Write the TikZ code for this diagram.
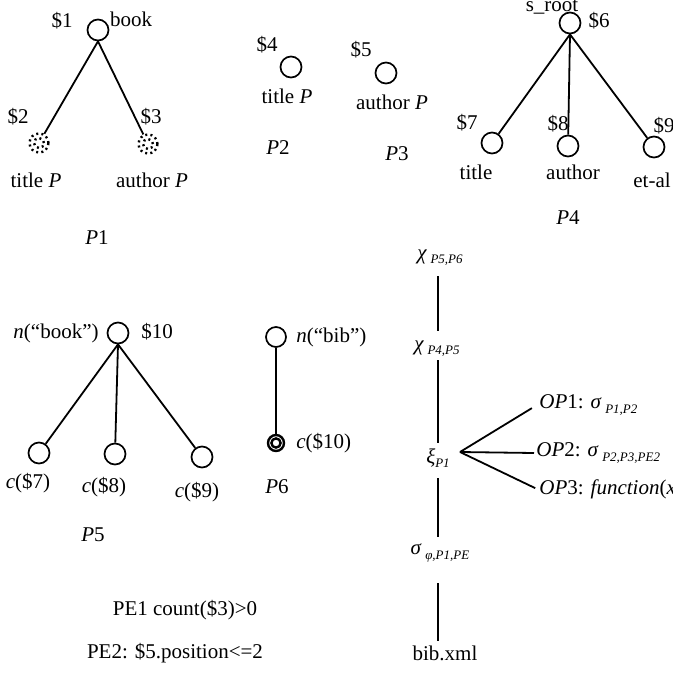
\documentclass[tikz,border=0pt]{standalone}
\usepackage{fontspec}
\setmainfont{Liberation Serif}
\usetikzlibrary{positioning,calc}
\newcommand{\sbs}[1]{\raisebox{-0.45ex}{\fontsize{6.5}{7}\selectfont\itshape #1}}

\begin{document}
\begin{tikzpicture}[x=0.5pt,y=-0.5pt,
    every node/.style={font=\fontsize{10.5}{12}\selectfont, inner sep=1pt},
    vnode/.style={circle, draw, line width=0.85pt, minimum size=10.5pt, inner sep=0pt},
    dnode/.style={circle, draw, line width=1.2pt, dash pattern=on 1pt off 1.6pt, minimum size=9.5pt, inner sep=0pt},
    bnode/.style={circle, draw, line width=1.2pt, minimum size=8pt, inner sep=0pt},
    edge/.style={line width=0.9pt}]
    \useasboundingbox (0,0) rectangle (673,675);

    % P1
    \node[vnode] (r1) at (98,30) {};
    \node (l1) at (62,21) {\$1};
    \node (t1) at (131,19) {book};
    \node[dnode] (c2) at (39,143) {};
    \node[dnode] (c3) at (148,144) {};
    \draw[line width=1.2pt, dash pattern=on 1pt off 1.6pt] (c2) circle (2.5pt) (c3) circle (2.5pt);
    \node (l2) at (18,117) {\$2};
    \node (l3) at (151,117) {\$3};
    \node (t2) at (36,180) {title \textit{P}};
    \node (t3) at (152,180) {author \textit{P}};
    \node (p1) at (97,238) {\textit{P}1};
    \draw[edge] (r1.south) -- (c2);
    \draw[edge] (r1.south) -- (c3);

    % P2, P3
    \node[vnode] (r2) at (291,67) {};
    \node (l4) at (267,45) {\$4};
    \node (t4) at (287,96) {title \textit{P}};
    \node (p2) at (278,148) {\textit{P}2};
    \node[vnode] (r3) at (386,73) {};
    \node (l5) at (361,50) {\$5};
    \node (t5) at (392,102) {author \textit{P}};
    \node (p3) at (397,154) {\textit{P}3};

    % P4
    \node[vnode] (r4) at (570,23) {};
    \node (s4) at (552,7) {s\_root};
    \node (l6) at (599,21) {\$6};
    \node[vnode] (c7) at (492,143) {};
    \node[vnode] (c8) at (568,146) {};
    \node[vnode] (c9) at (654,147) {};
    \node (l7) at (467,123) {\$7};
    \node (l8) at (558,124) {\$8};
    \node (l9) at (664,126) {\$9};
    \node (t7) at (476,172) {title};
    \node (t8) at (573,172) {author};
    \node (t9) at (652,180) {et-al};
    \node (p4) at (568,218) {\textit{P}4};
    \foreach \c in {c7,c8,c9}
        \draw[edge] (r4.south) -- (\c);

    % P5
    \node[vnode] (r5) at (118,333) {};
    \node[anchor=east] (t10) at (101,333) {\textit{n}(“book”)};
    \node[anchor=west] (l10) at (139,332) {\$10};
    \node[vnode] (d7) at (39,453) {};
    \node[vnode] (d8) at (115,454) {};
    \node[vnode] (d9) at (202,457) {};
    \node (u7) at (28,483) {\textit{c}(\$7)};
    \node (u8) at (104,487) {\textit{c}(\$8)};
    \node (u9) at (197,492) {\textit{c}(\$9)};
    \node (p5) at (93,535) {\textit{P}5};
    \foreach \c in {d7,d8,d9}
        \draw[edge] (r5.south) -- (\c);

    % P6
    \node[vnode, minimum size=10pt] (r6) at (276,337) {};
    \node[anchor=west] (t11) at (294,337) {\textit{n}(“bib”)};
    \node[bnode] (d10) at (276,443) {};
    \draw[line width=1.2pt] (d10) circle (2.3pt);
    \node[anchor=west] (u10) at (294,443) {\textit{c}(\$10)};
    \node (p6) at (277,487) {\textit{P}6};
    \draw[edge] (r6) -- (d10);

    % plan
    \node (x56) at (440,258) {\textit{χ}\,\sbs{P5,P6}};
    \node (x45) at (437,349) {\textit{χ}\,\sbs{P4,P5}};
    \node (xi) at (438,458) {\textit{ξ}\sbs{P1}};
    \node (sg) at (440,553) {\textit{σ}\,\sbs{φ,P1,PE}};
    \node (bib) at (445,653) {bib.xml};
    \draw[edge, shorten <=9pt, shorten >=9pt] (x56.center -| xi.center) -- (x45.center -| xi.center);
    \draw[edge, shorten <=5.5pt, shorten >=7.5pt] (x45.center -| xi.center) -- (xi.center);
    \draw[edge, shorten <=10pt, shorten >=8pt] (xi.center) -- (sg.center -| xi.center);
    \draw[edge, shorten <=15pt, shorten >=6pt] (sg.center -| xi.center) -- (bib.center -| xi.center);

    % operations
    \coordinate (fan) at (460,452);
    \node[anchor=west] (op1) at (537,405) {\textit{OP}1: \textit{σ}\,\sbs{P1,P2}};
    \node[anchor=west] (op2) at (534,453) {\textit{OP}2: \textit{σ}\,\sbs{P2,P3,PE2}};
    \node[anchor=west] (op3) at (537,489) {\textit{OP}3: \textit{function}(\textit{x})};
    \draw[edge, shorten >=3pt] (fan) -- (op1.west);
    \draw[edge] (fan) -- (op2.west);
    \draw[edge, shorten >=1pt] (fan) -- (op3.west);

    % predicates
    \node (pe1) at (185,610) {PE1 count(\$3)>0};
    \node (pe2) at (175,653) {PE2: \$5.position<=2};
\end{tikzpicture}
\end{document}
